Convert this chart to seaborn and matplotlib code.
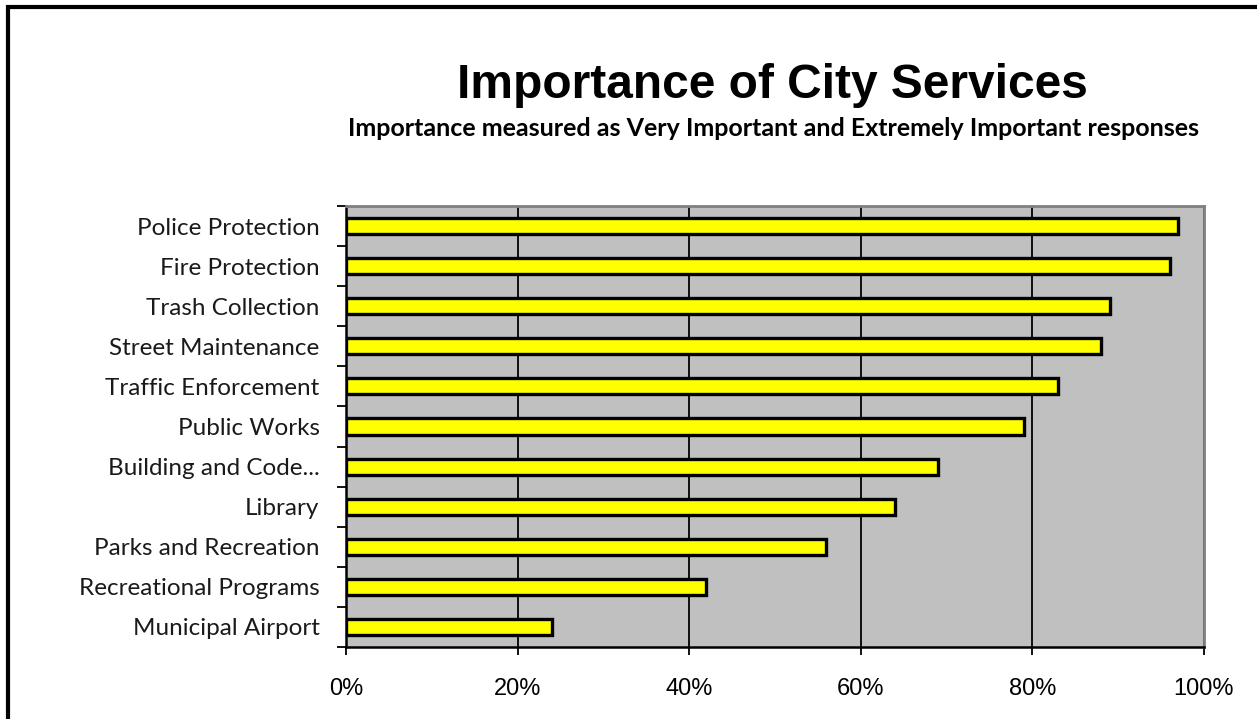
import matplotlib
matplotlib.use("Agg")
import matplotlib.pyplot as plt
import seaborn as sns
import pandas as pd
from matplotlib.patches import Rectangle
from matplotlib.ticker import FixedLocator, PercentFormatter

services = [
    "Police Protection",
    "Fire Protection",
    "Trash Collection",
    "Street Maintenance",
    "Traffic Enforcement",
    "Public Works",
    "Building and Code...",
    "Library",
    "Parks and Recreation",
    "Recreational Programs",
    "Municipal Airport",
]
importance = [97, 96, 89, 88, 83, 79, 69, 64, 56, 42, 24]
x_ticks = [0, 20, 40, 60, 80, 100]

df = pd.DataFrame({"service": services, "importance": importance})

sns.set_style("white")
plt.rcParams["font.family"] = ["Liberation Sans", "DejaVu Sans"]
plt.rcParams["text.color"] = "black"
plt.rcParams["xtick.color"] = "black"
plt.rcParams["ytick.color"] = "black"

fig = plt.figure(figsize=(12.57, 7.19), dpi=100)
W, H = 1257, 719
ax = fig.add_axes([346 / W, 1 - 647 / H, (1204 - 346) / W, (647 - 206) / H])

sns.barplot(
    data=df, x="importance", y="service", orient="h", order=services,
    color="#FFFF00", saturation=1, width=0.4, edgecolor="black",
    linewidth=2.4, ax=ax, zorder=3,
)

ax.set_facecolor("#C0C0C0")
ax.set_xlim(0, 100)
ax.set_ylim(len(services) - 0.5, -0.5)
ax.set_xlabel("")
ax.set_ylabel("")

# vertical gridlines at every 20%
ax.xaxis.set_major_locator(FixedLocator(x_ticks))
ax.xaxis.set_major_formatter(PercentFormatter(decimals=0))
ax.grid(axis="x", color="black", linewidth=1.3, zorder=0)
ax.set_axisbelow(True)

# category labels at bar centres, tick marks at category boundaries
ax.yaxis.set_minor_locator(FixedLocator([i - 0.5 for i in range(len(services) + 1)]))
ax.tick_params(axis="y", which="major", length=0, pad=19)
ax.tick_params(axis="y", which="minor", length=6.5, width=1.3, color="black", left=True)
ax.tick_params(axis="x", which="major", length=6, width=1.3, color="black",
               bottom=True, pad=16, labelsize=17, labelcolor="black")

for lab in ax.get_yticklabels():
    lab.set_fontfamily(["Lato", "DejaVu Sans"])
    lab.set_fontsize(17.5)
    lab.set_color("#1a1a1a")

for side in ("left", "bottom"):
    ax.spines[side].set_color("black")
    ax.spines[side].set_linewidth(1.8)
for side in ("top", "right"):
    ax.spines[side].set_color("#808080")
    ax.spines[side].set_linewidth(2)

fig.text(772 / W, 1 - 98 / H, "Importance of City Services",
         ha="center", va="baseline", fontsize=34.5, fontweight="bold",
         color="black", fontfamily=["Liberation Sans", "DejaVu Sans"])
fig.text(773 / W, 1 - 136 / H,
         "Importance measured as Very Important and Extremely Important responses",
         ha="center", va="baseline", fontsize=18, fontweight="bold",
         color="black", fontfamily=["Lato", "DejaVu Sans"])

# outer chart frame
fig.patches.append(Rectangle((8 / W, -0.05), 1.2, 1 - 7 / H + 0.05,
                             transform=fig.transFigure, fill=False,
                             edgecolor="black", linewidth=3))

fig.savefig("out.png", dpi=100, facecolor="white")
